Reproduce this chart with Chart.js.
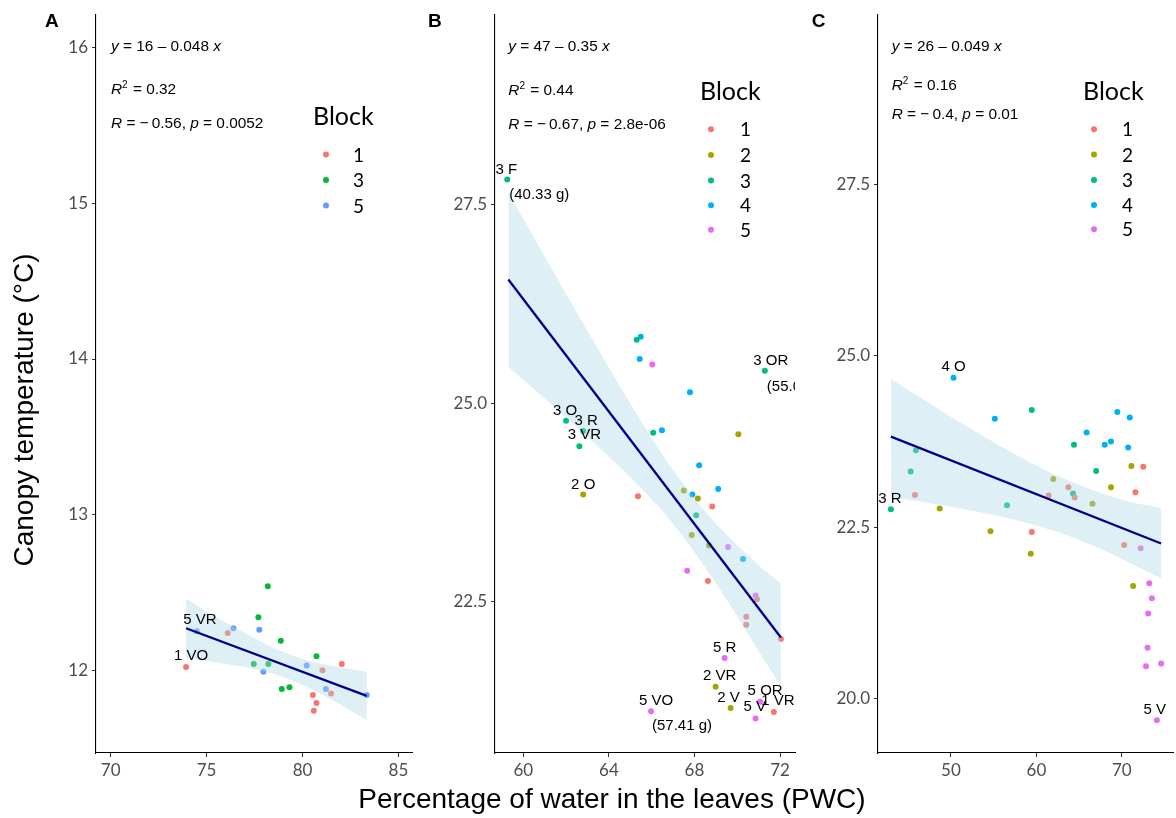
<!DOCTYPE html>
<html>
<head>
<meta charset="utf-8">
<script src="https://cdn.jsdelivr.net/npm/chart.js@4.4.1/dist/chart.umd.min.js"></script>
<style>
  html, body { margin: 0; padding: 0; background: #fff; }
  body { width: 1176px; height: 818px; position: relative; overflow: hidden; }
  .panel { position: absolute; top: 0; height: 818px; }
  #xTitle { position: absolute; left: 0; width: 1224px; top: 783px; line-height: 32px; text-align: center;
            font-family: "Liberation Sans", Arial, sans-serif; font-size: 28px; color: #000; white-space: nowrap; }
</style>
</head>
<body>
<div class="panel" style="left:0;width:420px"><canvas id="pA" width="420" height="818"></canvas></div>
<div class="panel" style="left:420px;width:380px"><canvas id="pB" width="380" height="818"></canvas></div>
<div class="panel" style="left:800px;width:376px"><canvas id="pC" width="376" height="818"></canvas></div>
<div id="xTitle">Percentage of water in the leaves (PWC)</div>
<script>
// ---------- colours of the blocks ----------
const hue3 = { '1': '#F8766D', '3': '#00BA38', '5': '#619CFF' };
const hue5 = { '1': '#F8766D', '2': '#A3A500', '3': '#00BF7D', '4': '#00B0F6', '5': '#E76BF3' };

// ---------- Panel A : [PWC, canopy temperature] per block ----------
const a_block1 = [[73.93,12.02],[76.10,12.24],[81.04,12.00],[82.05,12.04],[81.49,11.85],[80.54,11.84],[80.73,11.79],[80.59,11.74]];
const a_block3 = [[78.19,12.54],[77.70,12.34],[78.87,12.19],[80.73,12.09],[77.46,12.04],[78.22,12.04],[78.92,11.88],[79.32,11.89]];
const a_block5 = [[74.49,12.25],[76.40,12.27],[77.75,12.26],[77.96,11.99],[80.22,12.03],[81.22,11.88],[83.35,11.84]];
const a_fitX = [73.93, 83.35];
const a_fitY = [12.27, 11.835];
const a_bandX  = [73.93, 75.5, 77, 78.5, 80, 81.5, 83.35];
const a_bandLo = [12.08, 12.05, 12.02, 11.975, 11.906, 11.812, 11.68];
const a_bandHi = [12.46, 12.34, 12.24, 12.143, 12.074, 12.028, 11.99];
const a_xTicks = [70, 75, 80, 85];
const a_xTickLabels = ['70', '75', '80', '85'];
const a_yTicks = [12, 13, 14, 15, 16];
const a_yTickLabels = ['12', '13', '14', '15', '16'];

// ---------- Panel B ----------
const b_block1 = [[65.36,23.83],[68.83,23.70],[68.63,22.76],[70.92,22.53],[70.42,22.31],[70.42,22.21],[72.04,22.03],[71.71,21.11]];
const b_block2 = [[70.05,24.61],[62.80,23.85],[67.50,23.90],[68.16,23.80],[67.87,23.34],[68.68,23.21],[68.99,21.43],[69.69,21.16]];
const b_block3 = [[59.25,27.82],[65.30,25.80],[71.29,25.41],[62.00,24.78],[62.80,24.65],[62.62,24.46],[66.07,24.63],[68.08,23.59]];
const b_block4 = [[65.49,25.84],[65.44,25.56],[67.79,25.14],[66.48,24.66],[68.22,24.22],[69.11,23.92],[67.90,23.85],[70.27,23.04]];
const b_block5 = [[66.03,25.49],[69.57,23.19],[67.66,22.89],[70.86,22.58],[69.41,21.79],[65.97,21.12],[71.07,21.24],[70.86,21.03]];
const b_fitX = [59.30, 72.04];
const b_fitY = [26.56, 22.05];
const b_bandX  = [59.3, 61, 63, 65, 67, 69, 71, 72.04];
const b_bandLo = [25.46, 25.06, 24.575, 24.067, 23.483, 22.735, 21.876, 21.44];
const b_bandHi = [27.66, 26.85, 25.913, 24.999, 24.161, 23.485, 22.96, 22.73];
const b_xTicks = [60, 64, 68, 72];
const b_xTickLabels = ['60', '64', '68', '72'];
const b_yTicks = [22.5, 25, 27.5];
const b_yTickLabels = ['22.5', '25.0', '27.5'];

// ---------- Panel C ----------
const c_block1 = [[72.51,23.38],[63.74,23.08],[64.48,22.93],[61.43,22.96],[71.59,23.01],[45.78,22.97],[59.46,22.43],[70.28,22.24]];
const c_block2 = [[71.12,23.39],[61.97,23.20],[68.73,23.08],[66.57,22.84],[48.68,22.77],[54.63,22.44],[59.34,22.11],[71.32,21.64]];
const c_block3 = [[59.46,24.21],[64.40,23.70],[45.90,23.62],[45.28,23.31],[66.99,23.32],[64.29,22.99],[56.56,22.82],[42.97,22.76]];
const c_block4 = [[50.30,24.68],[55.13,24.08],[69.47,24.18],[70.93,24.10],[65.88,23.88],[68.00,23.70],[68.73,23.75],[70.74,23.66]];
const c_block5 = [[72.20,22.19],[73.21,21.68],[73.52,21.46],[73.09,21.24],[73.01,20.74],[72.83,20.47],[74.60,20.51],[74.10,19.68]];
const c_fitX = [42.97, 74.6];
const c_fitY = [23.82, 22.26];
const c_bandX  = [42.97, 48, 53, 58, 63, 68, 71, 74.6];
const c_bandLo = [22.94, 22.84, 22.727, 22.59, 22.405, 22.154, 21.971, 21.75];
const c_bandHi = [24.66, 24.264, 23.883, 23.528, 23.219, 22.978, 22.865, 22.78];
const c_xTicks = [50, 60, 70];
const c_xTickLabels = ['50', '60', '70'];
const c_yTicks = [20, 22.5, 25, 27.5];
const c_yTickLabels = ['20.0', '22.5', '25.0', '27.5'];

// ---------- text pieces ----------
const EQ_FONT = '"Liberation Sans", Arial, sans-serif';
const LEG_FONT = 'Lato, "Open Sans", sans-serif';
const MINUS = '\u2212\u2009';

function toXY(pairs) { return pairs.map(p => ({ x: p[0], y: p[1] })); }
function zipXY(xs, ys) { return xs.map((x, i) => ({ x: x, y: ys[i] })); }

function drawRich(ctx, segs, x, y, size) {
  let cx = x;
  ctx.textAlign = 'left';
  ctx.textBaseline = 'alphabetic';
  for (const s of segs) {
    const fs = s.sup ? Math.round(size * 0.68) : size;
    ctx.font = (s.it ? 'italic ' : '') + fs + 'px ' + EQ_FONT;
    ctx.fillText(s.t, cx, s.sup ? y - size * 0.42 : y);
    cx += ctx.measureText(s.t).width + (s.sup ? 1 : 0);
  }
}

// Plugin that writes point labels, regression statistics, the legend and the panel letter
function makeDecor(cfg) {
  return {
    id: 'decor',
    afterDatasetsDraw(chart) {
      const { ctx, chartArea: ca, scales } = chart;
      ctx.save();
      ctx.beginPath();
      ctx.rect(ca.left, ca.top, ca.right - ca.left, ca.bottom - ca.top);
      ctx.clip();
      ctx.fillStyle = '#000';
      ctx.font = '15px ' + EQ_FONT;
      ctx.textAlign = 'center';
      ctx.textBaseline = 'middle';
      for (const l of cfg.labels) {
        const p = l.s[l.i];
        ctx.fillText(l.t, scales.x.getPixelForValue(p[0]) + l.dx, scales.y.getPixelForValue(p[1]) + l.dy);
      }
      ctx.restore();
    },
    afterDraw(chart) {
      const { ctx, chartArea: ca } = chart;
      ctx.save();
      ctx.fillStyle = '#000';
      // regression statistics
      cfg.eq.forEach((line, k) => drawRich(ctx, line, ca.left + cfg.eqX, cfg.eqY[k], 15.4));
      // legend
      const lg = cfg.legend;
      ctx.textAlign = 'left';
      ctx.textBaseline = 'alphabetic';
      ctx.font = '25px ' + LEG_FONT;
      ctx.fillText('Block', ca.left + lg.titleX, lg.titleY);
      ctx.font = '19px ' + LEG_FONT;
      lg.keys.forEach((key, k) => {
        const y = lg.itemY[k];
        ctx.fillStyle = lg.colors[key];
        ctx.beginPath();
        ctx.arc(ca.left + lg.dotX, y, 3, 0, Math.PI * 2);
        ctx.fill();
        ctx.fillStyle = '#000';
        ctx.textBaseline = 'middle';
        ctx.fillText(key, ca.left + lg.textX, y + 1);
      });
      // panel letter
      ctx.textBaseline = 'alphabetic';
      ctx.font = 'bold 19px ' + EQ_FONT;
      ctx.fillText(cfg.letter[0], cfg.letter[1], 27);
      // shared y title, drawn on the first panel only
      if (cfg.yTitle) {
        ctx.translate(33, 410);
        ctx.rotate(-Math.PI / 2);
        ctx.textAlign = 'center';
        ctx.font = '28px ' + EQ_FONT;
        ctx.fillText(cfg.yTitle, 0, 0);
      }
      ctx.restore();
    }
  };
}

function scatterSets(blocks, colors) {
  return Object.keys(blocks).map(k => ({
    type: 'scatter',
    label: k,
    data: toXY(blocks[k]),
    backgroundColor: colors[k],
    borderWidth: 0,
    pointRadius: 3,
    pointHoverRadius: 3,
    order: 3
  }));
}

function fitSets(fx, fy, bx, blo, bhi) {
  return [
    { type: 'line', label: 'upper', data: zipXY(bx, bhi), borderWidth: 0, borderColor: 'rgba(0,0,0,0)',
      pointRadius: 0, fill: '+1', backgroundColor: 'rgba(173,216,230,0.4)', order: 2, tension: 0.35 },
    { type: 'line', label: 'lower', data: zipXY(bx, blo), borderWidth: 0, borderColor: 'rgba(0,0,0,0)',
      pointRadius: 0, fill: false, order: 2, tension: 0.35 },
    { type: 'line', label: 'fit', data: zipXY(fx, fy), borderColor: '#00008B', borderWidth: 2.3,
      pointRadius: 0, fill: false, order: 1 }
  ];
}

function axis(min, max, ticks, labels, isX, fitSize) {
  return {
    type: 'linear',
    min: min, max: max,
    afterBuildTicks: s => { s.ticks = ticks.map(v => ({ value: v })); },
    afterFit: s => { if (isX) s.height = fitSize; else s.width = fitSize; },
    ticks: {
      callback: (v, i) => labels[i],
      color: '#4D4D4D',
      font: { family: 'Lato', size: 17 },
      padding: isX ? 3 : 4,
      autoSkip: false, maxRotation: 0
    },
    grid: { display: true, drawOnChartArea: false, drawTicks: true, tickLength: 4, tickColor: '#333333', tickWidth: 1 },
    border: { display: true, color: '#000', width: 1.1 }
  };
}

function makePanel(id, cfg) {
  new Chart(document.getElementById(id), {
    data: { datasets: scatterSets(cfg.blocks, cfg.colors).concat(fitSets(cfg.fitX, cfg.fitY, cfg.bandX, cfg.bandLo, cfg.bandHi)) },
    options: {
      responsive: false,
      animation: false,
      events: [],
      layout: { padding: { left: 0, top: 12, right: cfg.padRight, bottom: 35 } },
      plugins: { legend: { display: false }, tooltip: { enabled: false } },
      scales: {
        x: axis(cfg.xMin, cfg.xMax, cfg.xTicks, cfg.xTickLabels, true, 30),
        y: axis(cfg.yMin, cfg.yMax, cfg.yTicks, cfg.yTickLabels, false, cfg.yWidth)
      }
    },
    plugins: [makeDecor(cfg)]
  });
}

makePanel('pA', {
  blocks: { '1': a_block1, '3': a_block3, '5': a_block5 }, colors: hue3,
  fitX: a_fitX, fitY: a_fitY, bandX: a_bandX, bandLo: a_bandLo, bandHi: a_bandHi,
  xMin: 69.233, xMax: 85.71, yMin: 11.468, yMax: 16.216,
  xTicks: a_xTicks, xTickLabels: a_xTickLabels, yTicks: a_yTicks, yTickLabels: a_yTickLabels,
  yWidth: 96, padRight: 8,
  eqX: 15, eqY: [50.7, 94.3, 128.3],
  eq: [
    [{ t: 'y', it: true }, { t: ' = 16 \u2013 0.048 ' }, { t: 'x', it: true }],
    [{ t: 'R', it: true }, { t: '2', sup: true }, { t: ' = 0.32' }],
    [{ t: 'R', it: true }, { t: ' = ' + MINUS + '0.56, ' }, { t: 'p', it: true }, { t: ' = 0.0052' }]
  ],
  legend: { keys: ['1', '3', '5'], colors: hue3, titleX: 217, titleY: 125, dotX: 230, textX: 257, itemY: [154.5, 180, 205.5] },
  labels: [
    { s: a_block5, i: 0, t: '5 VR', dx: 3, dy: -11 },
    { s: a_block1, i: 0, t: '1 VO', dx: 5, dy: -11 }
  ],
  letter: ['A', 45],
  yTitle: 'Canopy temperature (\u00B0C)'
});

makePanel('pB', {
  blocks: { '1': b_block1, '2': b_block2, '3': b_block3, '4': b_block4, '5': b_block5 }, colors: hue5,
  fitX: b_fitX, fitY: b_fitY, bandX: b_bandX, bandLo: b_bandLo, bandHi: b_bandHi,
  xMin: 58.677, xMax: 72.70, yMin: 20.594, yMax: 29.903,
  xTicks: b_xTicks, xTickLabels: b_xTickLabels, yTicks: b_yTicks, yTickLabels: b_yTickLabels,
  yWidth: 75, padRight: 5,
  eqX: 13.3, eqY: [50.7, 95, 129.3],
  eq: [
    [{ t: 'y', it: true }, { t: ' = 47 \u2013 0.35 ' }, { t: 'x', it: true }],
    [{ t: 'R', it: true }, { t: '2', sup: true }, { t: ' = 0.44' }],
    [{ t: 'R', it: true }, { t: ' = ' + MINUS + '0.67, ' }, { t: 'p', it: true }, { t: ' = 2.8e-06' }]
  ],
  legend: { keys: ['1', '2', '3', '4', '5'], colors: hue5, titleX: 205, titleY: 100, dotX: 216, textX: 245, itemY: [129.3, 155, 180.5, 205.3, 229.7] },
  labels: [
    { s: b_block3, i: 0, t: '3 F', dx: -1, dy: -10 },
    { s: b_block3, i: 0, t: '(40.33 g)', dx: 32, dy: 15 },
    { s: b_block3, i: 2, t: '3 OR', dx: 6, dy: -10 },
    { s: b_block3, i: 2, t: '(55.04 g)', dx: 32, dy: 16 },
    { s: b_block3, i: 3, t: '3 O', dx: -1, dy: -10 },
    { s: b_block3, i: 4, t: '3 R', dx: 3, dy: -10 },
    { s: b_block3, i: 5, t: '3 VR', dx: 5, dy: -11 },
    { s: b_block2, i: 1, t: '2 O', dx: 0, dy: -10 },
    { s: b_block5, i: 4, t: '5 R', dx: 0, dy: -10 },
    { s: b_block2, i: 6, t: '2 VR', dx: 4, dy: -11 },
    { s: b_block2, i: 7, t: '2 V', dx: -2, dy: -10 },
    { s: b_block5, i: 6, t: '5 OR', dx: 5, dy: -11 },
    { s: b_block1, i: 7, t: '1 VR', dx: 4, dy: -11 },
    { s: b_block5, i: 7, t: '5 V', dx: -1, dy: -12 },
    { s: b_block5, i: 5, t: '5 VO', dx: 5, dy: -10 },
    { s: b_block5, i: 5, t: '(57.41 g)', dx: 31, dy: 15 }
  ],
  letter: ['B', 8]
});

makePanel('pC', {
  blocks: { '1': c_block1, '2': c_block2, '3': c_block3, '4': c_block4, '5': c_block5 }, colors: hue5,
  fitX: c_fitX, fitY: c_fitY, bandX: c_bandX, bandLo: c_bandLo, bandHi: c_bandHi,
  xMin: 41.46, xMax: 75.99, yMin: 19.204, yMax: 29.983,
  xTicks: c_xTicks, xTickLabels: c_xTickLabels, yTicks: c_yTicks, yTickLabels: c_yTickLabels,
  yWidth: 78, padRight: 0,
  eqX: 13.7, eqY: [50.7, 90, 119.3],
  eq: [
    [{ t: 'y', it: true }, { t: ' = 26 \u2013 0.049 ' }, { t: 'x', it: true }],
    [{ t: 'R', it: true }, { t: '2', sup: true }, { t: ' = 0.16' }],
    [{ t: 'R', it: true }, { t: ' = ' + MINUS + '0.4, ' }, { t: 'p', it: true }, { t: ' = 0.01' }]
  ],
  legend: { keys: ['1', '2', '3', '4', '5'], colors: hue5, titleX: 205, titleY: 100, dotX: 216, textX: 244, itemY: [129.3, 154.5, 180, 205, 229.3] },
  labels: [
    { s: c_block4, i: 0, t: '4 O', dx: 0, dy: -11 },
    { s: c_block3, i: 7, t: '3 R', dx: -1, dy: -10 },
    { s: c_block5, i: 7, t: '5 V', dx: -2, dy: -11 }
  ],
  letter: ['C', 11.7]
});
</script>
</body>
</html>
